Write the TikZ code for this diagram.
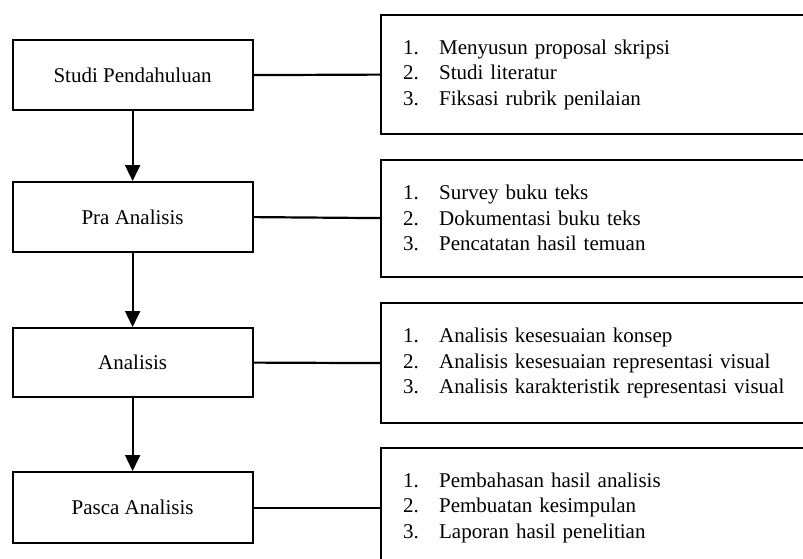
\documentclass[tikz,border=0pt]{standalone}
\usepackage{fontspec}
\setmainfont{Liberation Serif}
\usetikzlibrary{arrows.meta}
\newcommand\itm[2]{\makebox[36pt][l]{#1}#2}
\tikzset{
  stage/.style={draw, line width=2.2pt, minimum width=240pt, minimum height=70pt,
    anchor=north west, inner sep=0pt, font=\fontsize{21}{25.5}\selectfont},
  detail/.style={draw, line width=2.2pt, minimum width=450pt, anchor=north west,
    inner xsep=22pt, inner ysep=0pt, text width=406pt, align=left,
    font=\fontsize{21}{25.5}\selectfont},
  flow/.style={line width=2.2pt, -{Triangle[width=15pt,length=16pt]}},
  link/.style={line width=2.2pt}
}
\begin{document}
\begin{tikzpicture}[x=1pt,y=-1pt]
\useasboundingbox (0,0) rectangle (803,559);
\clip (0,0) rectangle (803,559);
\fill[white] (0,0) rectangle (803,559);

\node[stage] (s1) at (11.5,39) {Studi Pendahuluan};
\node[stage, minimum height=70pt] (s2) at (11.5,181) {Pra Analisis};
\node[stage, minimum height=69pt] (s3) at (11.5,327) {Analisis};
\node[stage, minimum height=71pt] (s4) at (11.5,471) {Pasca Analisis};

\node[detail, minimum height=119pt] (d1) at (380,14)
  {\itm{1.}{Menyusun proposal skripsi}\\\itm{2.}{Studi literatur}\\\itm{3.}{Fiksasi rubrik penilaian}};
\node[detail, minimum height=117pt] (d2) at (380,158.5)
  {\itm{1.}{Survey buku teks}\\\itm{2.}{Dokumentasi buku teks}\\\itm{3.}{Pencatatan hasil temuan}};
\node[detail, minimum height=120pt] (d3) at (380,302)
  {\itm{1.}{Analisis kesesuaian konsep}\\\itm{2.}{Analisis kesesuaian representasi visual}\\\itm{3.}{Analisis karakteristik representasi visual}};
\node[detail, minimum height=119pt] (d4) at (380,447)
  {\itm{1.}{Pembahasan hasil analisis}\\\itm{2.}{Pembuatan kesimpulan}\\\itm{3.}{Laporan hasil penelitian}};

\draw[flow] (s1.south) -- (s2.north);
\draw[flow] (s2.south) -- (s3.north);
\draw[flow] (s3.south) -- (s4.north);

\draw[link] (s1.east) -- (d1.west);
\draw[link] (s2.east) -- (d2.west);
\draw[link] (s3.east) -- (d3.west);
\draw[link] (s4.east) -- (d4.west);
\end{tikzpicture}
\end{document}
